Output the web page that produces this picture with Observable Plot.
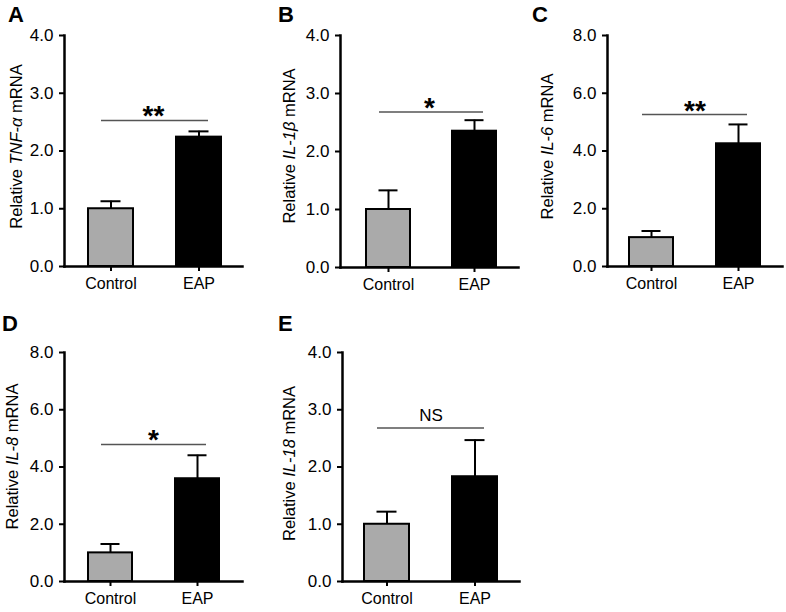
<!DOCTYPE html>
<html><head><meta charset="utf-8">
<script src="https://cdn.jsdelivr.net/npm/d3@7"></script>
<script src="https://cdn.jsdelivr.net/npm/@observablehq/plot@0.6"></script>
<style>
body{margin:0;background:#fff;}
#fig{position:relative;width:786px;height:612px;font-family:"Liberation Sans",Arial,Helvetica,sans-serif;}
#fig svg{position:absolute;overflow:visible;}
</style></head><body><div id="fig"></div>
<script>
// ---- data ----
const groups = ["Control", "EAP"];
const panelLetters = ["A", "B", "C", "D", "E"];
const geneNames = ["TNF-α", "IL-1β", "IL-6", "IL-8", "IL-18"];
const controlMean = [1.00, 1.00, 1.00, 1.00, 1.00];
const controlErr = [0.13, 0.33, 0.23, 0.31, 0.22];
const eapMean = [2.24, 2.35, 4.25, 3.59, 1.83];
const eapErr = [0.10, 0.19, 0.67, 0.82, 0.64];
const sigLevel = [2.53, 2.68, 5.26, 4.79, 2.68];
const sigLabel = ["**", "*", "**", "*", "NS"];
const yMax = [4, 4, 8, 8, 4];
const ticks4 = [0, 1, 2, 3, 4];
const ticks8 = [0, 2, 4, 6, 8];
const yTicks = [ticks4, ticks4, ticks8, ticks8, ticks4];

// ---- style / layout ----
const FONT = '"Liberation Sans", Arial, Helvetica, sans-serif';
const groupFill = {Control: "#aaaaaa", EAP: "#000000"};
const layout = [
  {left: 0,   top: 0,   w: 260, h: 300, ml: 64, mr: 18, mt: 35, mb: 34, xr: [88, 221],     tdx: 48, tdy: -4,  lx: 8,  ly: 22},
  {left: 260, top: 0,   w: 270, h: 300, ml: 80, mr: 12, mt: 35, mb: 33, xr: [106, 236.7],  tdx: 51, tdy: -5,  lx: 18, ly: 22},
  {left: 520, top: 0,   w: 266, h: 300, ml: 87, mr: 4,  mt: 35, mb: 34, xr: [108, 240.7],  tdx: 60, tdy: -4,  lx: 12, ly: 22},
  {left: 0,   top: 300, w: 260, h: 312, ml: 64, mr: 18, mt: 52, mb: 31, xr: [87.7, 220.5], tdx: 52, tdy: -10, lx: 2,  ly: 31},
  {left: 260, top: 300, w: 270, h: 312, ml: 82, mr: 11, mt: 52, mb: 31, xr: [104.3, 237.3], tdx: 53, tdy: -3, lx: 18, ly: 31}
];

const fig = document.getElementById("fig");

layout.forEach((L, i) => {
  const data = [
    {group: groups[0], mean: controlMean[i], err: controlErr[i]},
    {group: groups[1], mean: eapMean[i], err: eapErr[i]}
  ];
  const sig = [{from: groups[0], to: groups[1], y: sigLevel[i], label: sigLabel[i]}];
  const isNS = sigLabel[i] === "NS";
  const svg = Plot.plot({
    width: L.w, height: L.h,
    marginLeft: L.ml, marginRight: L.mr, marginTop: L.mt, marginBottom: L.mb,
    style: {fontFamily: FONT, background: "transparent", color: "#000", overflow: "visible"},
    x: {type: "band", domain: groups, range: L.xr, paddingInner: 0.49, paddingOuter: 0, align: 0.5},
    y: {domain: [0, yMax[i]]},
    marks: [
      Plot.barY(data, {x: "group", y: "mean", fill: d => groupFill[d.group], stroke: "#000", strokeWidth: 2}),
      Plot.ruleX(data, {x: "group", y1: "mean", y2: d => d.mean + d.err, stroke: "#000", strokeWidth: 2}),
      Plot.tickY(data, {x: "group", y: d => d.mean + d.err, stroke: "#000", strokeWidth: 2, inset: 12.5}),
      Plot.ruleY(sig, {x1: "from", x2: "to", y: "y", stroke: "#555", strokeWidth: 1.5, insetLeft: 13, insetRight: 13}),
      Plot.text(sig, {y: "y", text: "label", lineAnchor: "bottom",
        fontSize: isNS ? 17 : 28, fontWeight: isNS ? "normal" : "bold",
        dy: isNS ? -7 : 5, fill: "#000"}),
      Plot.axisY({ticks: yTicks[i], tickFormat: d3.format(".1f"), tickSize: 5, tickPadding: 6,
        fontSize: 17, strokeWidth: 2, label: null}),
      Plot.axisX({tickSize: 5, tickPadding: 6, fontSize: 16, strokeWidth: 2, label: null}),
      Plot.frame({anchor: "left", strokeWidth: 2.5}),
      Plot.frame({anchor: "bottom", strokeWidth: 2.5})
    ]
  });
  svg.style.left = L.left + "px";
  svg.style.top = L.top + "px";
  const s = d3.select(svg);
  // panel letter
  s.append("text")
    .attr("x", L.lx).attr("y", L.ly)
    .attr("text-anchor", "start")
    .attr("font-family", FONT).attr("font-size", 22).attr("font-weight", "bold")
    .attr("fill", "#000")
    .text(panelLetters[i]);
  // y-axis title with italic gene name
  const cy = (L.mt + (L.h - L.mb)) / 2 + L.tdy;
  const cx = L.ml - L.tdx;
  const t = s.append("text")
    .attr("transform", `translate(${cx},${cy}) rotate(-90)`)
    .attr("dy", "0.35em")
    .attr("text-anchor", "middle")
    .attr("font-family", FONT).attr("font-size", 16.5).attr("fill", "#000");
  t.append("tspan").text("Relative ");
  t.append("tspan").attr("font-style", "italic").text(geneNames[i]);
  t.append("tspan").text(" mRNA");
  fig.appendChild(svg);
});
</script>
</body></html>
